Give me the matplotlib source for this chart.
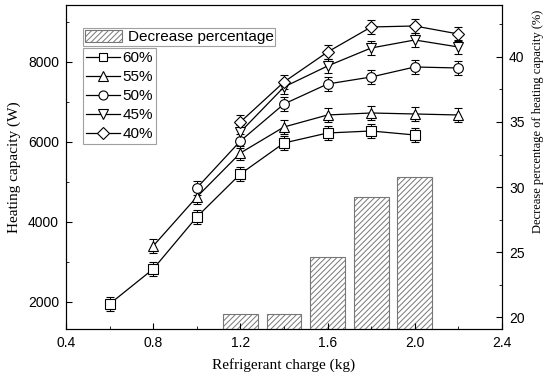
import matplotlib
matplotlib.use("Agg")
import matplotlib.pyplot as plt
from matplotlib.lines import Line2D
from matplotlib.ticker import MultipleLocator

# data
charge_60 = [0.6, 0.8, 1.0, 1.2, 1.4, 1.6, 1.8, 2.0]
cap_60 = [1950, 2825, 4125, 5200, 5975, 6225, 6275, 6175]
charge_55 = [0.8, 1.0, 1.2, 1.4, 1.6, 1.8, 2.0, 2.2]
cap_55 = [3400, 4625, 5725, 6375, 6675, 6725, 6700, 6675]
charge_50 = [1.0, 1.2, 1.4, 1.6, 1.8, 2.0, 2.2]
cap_50 = [4850, 6025, 6950, 7450, 7625, 7875, 7850]
charge_45 = [1.2, 1.4, 1.6, 1.8, 2.0, 2.2]
cap_45 = [6250, 7375, 7900, 8350, 8550, 8375]
charge_40 = [1.2, 1.4, 1.6, 1.8, 2.0, 2.2]
cap_40 = [6500, 7500, 8250, 8875, 8900, 8700]
err = 170

bar_charge = [1.2, 1.4, 1.6, 1.8, 2.0]
bar_decrease = [20.2, 20.2, 24.6, 29.2, 30.8]

plt.rcParams['font.family'] = ['Liberation Sans', 'DejaVu Sans']
plt.rcParams['hatch.color'] = '#808080'
plt.rcParams['hatch.linewidth'] = 0.7
serif = ['Liberation Serif', 'DejaVu Serif']

fig = plt.figure(figsize=(5.5, 3.83), dpi=100)
ax = fig.add_axes([0.12, 0.141, 0.7927, 0.846])
ax2 = ax.twinx()

# bars on the right axis, drawn behind the lines
bars = ax2.bar(bar_charge, bar_decrease, width=0.16, color='white',
               edgecolor='#777777', hatch='//////', linewidth=0.8,
               label='Decrease percentage')
ax2.set_ylim(19.08, 44.0)
ax2.yaxis.set_major_locator(MultipleLocator(5))
ax2.yaxis.set_minor_locator(MultipleLocator(2.5))
ax2.set_ylabel('Decrease percentage of heating capacity (%)', family=serif,
               fontsize=9)
ax2.yaxis.set_label_coords(1.068, 0.64)

ax.set_zorder(ax2.get_zorder() + 1)
ax.patch.set_visible(False)

series = [
    (charge_60, cap_60, 's', 6.5, '60%'),
    (charge_55, cap_55, '^', 7, '55%'),
    (charge_50, cap_50, 'o', 7, '50%'),
    (charge_45, cap_45, 'v', 7, '45%'),
    (charge_40, cap_40, 'D', 6.5, '40%'),
]
handles = []
for xs, ys, m, ms, lab in series:
    ax.errorbar(xs, ys, yerr=err, color='black', lw=0.9, marker=m,
                ms=ms, mfc='white', mec='black', mew=0.8, capsize=3,
                elinewidth=0.7, capthick=0.7)
    handles.append(Line2D([], [], color='black', lw=0.9, marker=m, ms=ms - 0.5,
                          mfc='white', mec='black', mew=0.8, label=lab))

ax.set_xlim(0.4, 2.4)
ax.set_ylim(1325, 9425)
ax.xaxis.set_minor_locator(MultipleLocator(0.2))
ax.yaxis.set_major_locator(MultipleLocator(2000))
ax.yaxis.set_minor_locator(MultipleLocator(1000))
ax.set_xticks([0.4, 0.8, 1.2, 1.6, 2.0, 2.4])
ax.set_xticklabels(['0.4', '0.8', '1.2', '1.6', '2.0', '2.4'])
ax.set_xlabel('Refrigerant charge (kg)', family=serif, fontsize=11, labelpad=6)
ax.set_ylabel('Heating capacity (W)', family=serif, fontsize=11, labelpad=5)

for a in (ax, ax2):
    a.tick_params(which='both', direction='in', labelsize=10, pad=5)
    a.tick_params(which='major', length=4)
    a.tick_params(which='minor', length=2)
ax.tick_params(axis='y', which='both', right=False)
ax2.tick_params(axis='x', which='both', top=False)

leg1 = ax.legend(handles=[bars], loc='upper left',
                 bbox_to_anchor=(0.039, 0.929), fontsize=11, frameon=True,
                 fancybox=False, edgecolor='#888888', handlelength=2.4,
                 handleheight=0.9, borderpad=0.12, borderaxespad=0,
                 handletextpad=0.4)
leg1.get_frame().set_linewidth(0.8)
ax.add_artist(leg1)

leg2 = ax.legend(handles=handles, loc='upper left',
                 bbox_to_anchor=(0.039, 0.867), fontsize=11, frameon=True,
                 fancybox=False, edgecolor='#888888', handlelength=2.2,
                 borderpad=0.2, borderaxespad=0, labelspacing=0.33,
                 handletextpad=0.2)
leg2.get_frame().set_linewidth(0.8)

fig.savefig('out.png', dpi=100)
